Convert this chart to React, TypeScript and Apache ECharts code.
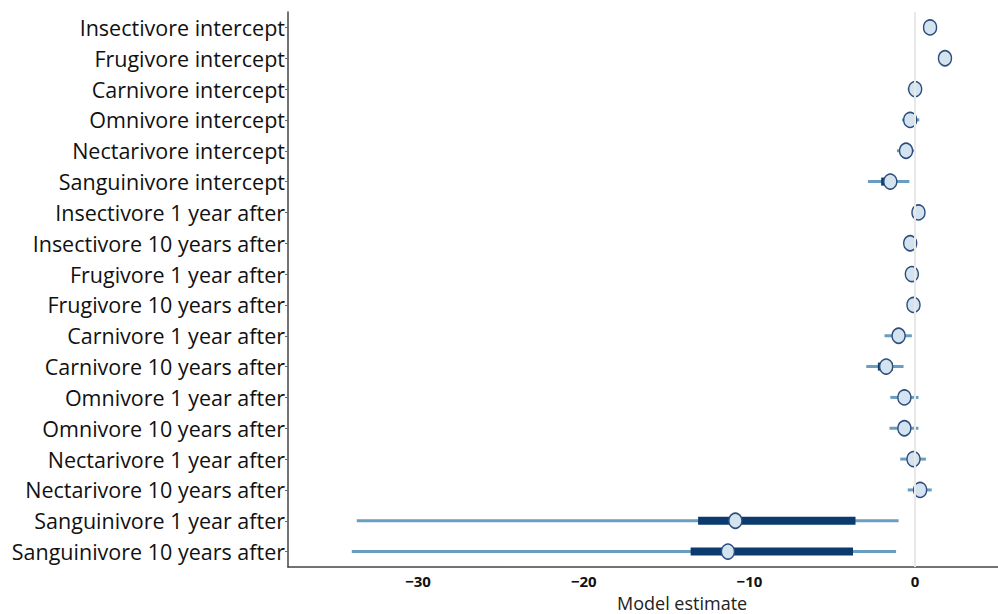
import React, { useEffect, useRef } from "react";
import * as echarts from "echarts";

const categories = [
  "Insectivore intercept",
  "Frugivore intercept",
  "Carnivore intercept",
  "Omnivore intercept",
  "Nectarivore intercept",
  "Sanguinivore intercept",
  "Insectivore 1 year after",
  "Insectivore 10 years after",
  "Frugivore 1 year after",
  "Frugivore 10 years after",
  "Carnivore 1 year after",
  "Carnivore 10 years after",
  "Omnivore 1 year after",
  "Omnivore 10 years after",
  "Nectarivore 1 year after",
  "Nectarivore 10 years after",
  "Sanguinivore 1 year after",
  "Sanguinivore 10 years after",
];

const estimates = [0.9, 1.8, 0.0, -0.3, -0.55, -1.5, 0.2, -0.3, -0.2, -0.1, -1.0, -1.75, -0.65, -0.65, -0.1, 0.3, -10.85, -11.3];

// outer (thin) interval [low, high]
const outerLow = [0.8, 1.7, -0.45, -0.8, -1.1, -2.85, 0.1, -0.6, -0.3, -0.2, -1.85, -2.95, -1.5, -1.55, -0.9, -0.45, -33.7, -34.0];
const outerHigh = [1.0, 1.9, 0.4, 0.25, 0.05, -0.35, 0.3, 0.1, -0.1, 0.0, -0.2, -0.7, 0.2, 0.2, 0.65, 1.0, -1.0, -1.15];

// inner (thick) interval [low, high]
const innerLow = [0.85, 1.75, -0.1, -0.4, -0.65, -2.05, 0.15, -0.4, -0.25, -0.15, -1.2, -2.25, -0.8, -0.8, -0.25, 0.15, -13.1, -13.55];
const innerHigh = [0.95, 1.85, 0.1, -0.2, -0.45, -1.3, 0.25, -0.2, -0.15, -0.05, -0.8, -1.35, -0.5, -0.5, 0.05, 0.45, -3.6, -3.75];

const xTicks = [-30, -20, -10, 0];

export default function App() {
  const ref = useRef<HTMLDivElement>(null);
  useEffect(() => {
    if (!ref.current) return;
    const chart = echarts.init(ref.current, undefined, { renderer: "svg" });
    const intervalData = categories.map((_, i) => [outerLow[i], outerHigh[i], innerLow[i], innerHigh[i], i]);
    const font = "'Open Sans', 'Noto Sans', sans-serif";
    chart.setOption({
      animation: false,
      backgroundColor: "#ffffff",
      grid: { left: 288, right: 0, top: 12, bottom: 47 },
      xAxis: {
        type: "value",
        min: -37.85,
        max: 5,
        splitLine: { show: false },
        axisLine: { show: true, onZero: false, lineStyle: { color: "#444", width: 1.5 } },
        axisTick: { show: false },
        axisLabel: {
          customValues: xTicks,
          color: "#111",
          fontSize: 15,
          fontWeight: "bold",
          fontFamily: font,
          margin: 6,
          formatter: (v: number) => String(v).replace("-", "\u2212"),
        },
      },
      yAxis: {
        type: "category",
        inverse: true,
        data: categories,
        boundaryGap: true,
        axisLine: { show: true, onZero: false, lineStyle: { color: "#444", width: 1.5 } },
        axisTick: { show: true, alignWithLabel: true, length: 3, lineStyle: { color: "#666" } },
        axisLabel: { color: "#111", fontSize: 21.5, fontFamily: font, margin: 3 },
        splitLine: { show: false },
      },
      graphic: [
        {
          type: "text",
          left: 617,
          top: 594,
          style: { text: "Model estimate", fontSize: 18, fill: "#222", fontFamily: font },
        },
      ],
      series: [
        {
          type: "line",
          data: [],
          markLine: {
            silent: true,
            symbol: "none",
            label: { show: false },
            lineStyle: { color: "#e8e8e8", width: 2, type: "solid" },
            data: [{ xAxis: 0 }],
          },
          z: 1,
        },
        {
          type: "custom",
          z: 2,
          data: intervalData,
          encode: { x: [0, 1, 2, 3], y: 4 },
          renderItem: (params: any, api: any) => {
            const idx = api.value(4);
            const a = api.coord([api.value(0), idx]);
            const b = api.coord([api.value(1), idx]);
            const c = api.coord([api.value(2), idx]);
            const d = api.coord([api.value(3), idx]);
            return {
              type: "group",
              children: [
                {
                  type: "line",
                  shape: { x1: a[0], y1: a[1], x2: b[0], y2: b[1] },
                  style: { stroke: "#6a9ec0", lineWidth: 3 },
                },
                {
                  type: "line",
                  shape: { x1: c[0], y1: c[1], x2: d[0], y2: d[1] },
                  style: { stroke: "#0b3a6e", lineWidth: 8 },
                },
              ],
            };
          },
        },
        {
          type: "scatter",
          z: 3,
          symbol: "circle",
          symbolSize: [13, 15],
          data: estimates.map((v, i) => [v, i]),
          itemStyle: { color: "#d3e4f0", borderColor: "#2e4d7c", borderWidth: 1.5, opacity: 1 },
        },
      ],
    });
    return () => chart.dispose();
  }, []);
  return <div ref={ref} style={{ width: 998, height: 614, position: "absolute", left: 0, top: 0 }} />;
}
